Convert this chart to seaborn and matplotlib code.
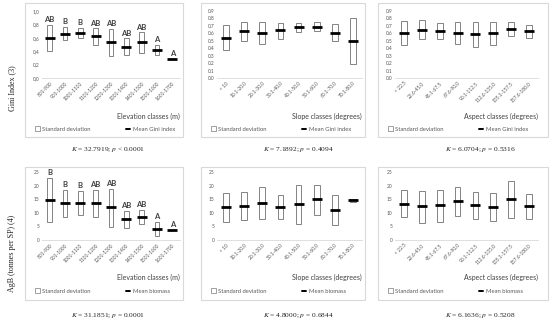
import numpy as np
import pandas as pd
import seaborn as sns
import matplotlib.pyplot as plt
from matplotlib.patches import Rectangle, Patch
from matplotlib.lines import Line2D

# Classes
elev_classes = ['801-900', '901-1000', '1001-1100', '1101-1200', '1201-1300',
                '1301-1400', '1401-1500', '1501-1600', '1601-1700']
slope_classes = ['< 10', '10.1-20.0', '20.1-30.0', '30.1-40.0', '40.1-50.0',
                 '50.1-60.0', '60.1-70.0', '70.1-80.0']
aspect_classes = ['< 22.5', '22.6-45.0', '45.1-67.5', '67.6-90.0', '90.1-112.5',
                  '112.6-135.0', '135.1-157.5', '157.6-180.0']

# Gini index
gini_elev_mean = [0.60, 0.66, 0.67, 0.62, 0.53, 0.46, 0.53, 0.42, 0.29]
gini_elev_low = [0.40, 0.56, 0.60, 0.50, 0.33, 0.34, 0.38, 0.34, 0.29]
gini_elev_high = [0.79, 0.76, 0.75, 0.74, 0.73, 0.59, 0.68, 0.50, 0.29]
gini_elev_letters = ['AB', 'B', 'B', 'AB', 'AB', 'AB', 'AB', 'A', 'A']

gini_slope_mean = [0.54, 0.63, 0.61, 0.64, 0.68, 0.69, 0.61, 0.50]
gini_slope_low = [0.37, 0.50, 0.46, 0.53, 0.62, 0.63, 0.50, 0.19]
gini_slope_high = [0.71, 0.75, 0.75, 0.74, 0.74, 0.75, 0.72, 0.80]

gini_aspect_mean = [0.60, 0.65, 0.63, 0.61, 0.59, 0.60, 0.66, 0.63]
gini_aspect_low = [0.44, 0.52, 0.52, 0.46, 0.42, 0.44, 0.56, 0.54]
gini_aspect_high = [0.76, 0.78, 0.74, 0.75, 0.75, 0.75, 0.75, 0.71]

# Above ground biomass
agb_elev_mean = [14.7, 13.6, 13.7, 13.6, 12.0, 7.6, 8.4, 4.0, 3.8]
agb_elev_low = [6.5, 8.5, 9.3, 8.5, 4.8, 4.3, 5.7, 1.3, 3.8]
agb_elev_high = [22.8, 18.5, 18.0, 18.5, 18.8, 10.8, 11.2, 6.6, 3.8]
agb_elev_letters = ['B', 'B', 'B', 'AB', 'AB', 'AB', 'AB', 'A', 'A']

agb_slope_mean = [12.0, 12.5, 13.7, 12.2, 13.3, 15.0, 11.0, 14.6]
agb_slope_low = [6.6, 7.2, 7.7, 7.7, 6.0, 9.2, 5.4, 14.1]
agb_slope_high = [17.4, 17.7, 19.6, 16.6, 20.1, 20.3, 16.4, 15.1]

agb_aspect_mean = [13.4, 12.4, 12.9, 14.3, 12.9, 12.2, 15.0, 12.4]
agb_aspect_low = [8.4, 6.3, 6.8, 8.8, 7.6, 7.0, 8.1, 7.6]
agb_aspect_high = [18.3, 18.0, 18.4, 19.5, 17.8, 17.2, 21.7, 16.9]

captions = ['$K$ = 32.7919; $p$ < 0.0001', '$K$ = 7.1892; $p$ = 0.4094', '$K$ = 6.0704; $p$ = 0.5316',
            '$K$ = 31.1851; $p$ = 0.0001', '$K$ = 4.8000; $p$ = 0.6844', '$K$ = 6.1636; $p$ = 0.5208']
xlabels = ['Elevation classes (m)', 'Slope classes (degrees)', 'Aspect classes (degrees)']

sns.set_style('white')
plt.rcParams['font.family'] = ['Lato', 'DejaVu Sans']
plt.rcParams['mathtext.fontset'] = 'stix'

W, H = 550, 327
fig = plt.figure(figsize=(W / 100, H / 100), dpi=100)


def fx(x):
    return x / W


def fy(y):
    return 1 - y / H


paneles = [
    (elev_classes, gini_elev_mean, gini_elev_low, gini_elev_high, gini_elev_letters, 1.0, 0.2, 'Mean Gini index'),
    (slope_classes, gini_slope_mean, gini_slope_low, gini_slope_high, None, 0.9, 0.1, 'Mean Gini index'),
    (aspect_classes, gini_aspect_mean, gini_aspect_low, gini_aspect_high, None, 0.9, 0.1, 'Mean Gini index'),
    (elev_classes, agb_elev_mean, agb_elev_low, agb_elev_high, agb_elev_letters, 25, 5, 'Mean biomass'),
    (slope_classes, agb_slope_mean, agb_slope_low, agb_slope_high, None, 25, 5, 'Mean biomass'),
    (aspect_classes, agb_aspect_mean, agb_aspect_low, agb_aspect_high, None, 25, 5, 'Mean biomass'),
]

# geometria em pixels
frame_x = [(25, 183), (201, 365), (378, 548)]
frame_y = [(3, 137), (167, 300)]
axes_x = [(42, 180), (217, 362), (395, 538)]
axes_y = [(11, 78), (172, 240)]
xlabel_y = [116, 277]
legend_y = [129, 291]
caption_y = [150, 315]
caption_x = [108, 298, 480]

cinza = '#7a7a7a'
for i, (classes, media, baixo, alto, letras, ymax, passo, nome_media) in enumerate(paneles):
    lin, col = divmod(i, 3)
    x0, x1 = frame_x[col]
    y0, y1 = frame_y[lin]
    fig.add_artist(Rectangle((fx(x0), fy(y1)), (x1 - x0) / W, (y1 - y0) / H, transform=fig.transFigure,
                             fill=False, edgecolor='#d9d9d9', lw=0.8))

    ax0, ax1 = axes_x[col]
    ay0, ay1 = axes_y[lin]
    ax = fig.add_axes([fx(ax0), fy(ay1), (ax1 - ax0) / W, (ay1 - ay0) / H])
    ax.patch.set_alpha(0)

    df = pd.DataFrame({'pos': np.arange(len(classes)), 'media': media,
                       'baixo': baixo, 'alto': alto})
    ax.bar(df['pos'], df['alto'] - df['baixo'], bottom=df['baixo'], width=0.32,
           facecolor='white', edgecolor=cinza, lw=0.65, zorder=2)
    sns.scatterplot(data=df, x='pos', y='media', marker='_', s=50, linewidth=2.0,
                    color='black', ax=ax, legend=False, zorder=3)

    if letras is not None:
        for p, l, a, m in zip(df['pos'], letras, df['alto'], df['media']):
            ax.text(p, max(a, m) + ymax * 0.025, l, ha='center', va='bottom',
                    fontsize=5.5, fontweight='bold', color='#404040')

    ax.set_xlim(-0.5, len(classes) - 0.5)
    ax.set_ylim(0, ymax)
    ticks = np.arange(0, ymax + passo / 2, passo)
    ax.set_yticks(ticks)
    if i == 0:
        ax.set_yticklabels([f'{t:.1f}'.replace('.', ',') for t in ticks])
    elif ymax < 5:
        ax.set_yticklabels([f'{t:.1f}' for t in ticks])
    else:
        ax.set_yticklabels([f'{t:.0f}' for t in ticks])
    ax.set_xticks(df['pos'])
    ax.set_xticklabels(classes, rotation=45, ha='right', rotation_mode='anchor')
    ax.tick_params(axis='both', length=0, labelsize=3.5, labelcolor='#595959', pad=2)
    ax.set_xlabel('')
    ax.set_ylabel('')
    for s in ['left', 'top', 'right']:
        ax.spines[s].set_visible(False)
    ax.spines['bottom'].set_color('#d9d9d9')
    ax.spines['bottom'].set_linewidth(0.6)

    fig.text(fx(ax1), fy(xlabel_y[lin]), xlabels[col], ha='right', va='center',
             fontsize=5, color='#404040')

    handles = [Patch(facecolor='white', edgecolor=cinza, lw=0.5),
               Line2D([0], [0], color='black', lw=1.4)]
    ax.legend(handles, ['Standard deviation', nome_media], loc='center left',
              bbox_to_anchor=(fx(x0 + 5), fy(legend_y[lin])), bbox_transform=fig.transFigure,
              ncol=2, frameon=False, fontsize=4.2, labelcolor='#595959',
              handlelength=0.8, handleheight=0.8, handletextpad=0.4, columnspacing=6.0)

    fig.text(fx(caption_x[col]), fy(caption_y[lin]), captions[i], ha='center', va='center',
             fontsize=5.3, family='Liberation Serif', color='#222222')

fig.text(fx(12), fy(88), 'Gini Index (3)', rotation=90, ha='center', va='center',
         fontsize=5.8, family='Liberation Serif', color='#222222')
fig.text(fx(12), fy(253), 'AgB (tonnes per SP) (4)', rotation=90, ha='center', va='center',
         fontsize=5.8, family='Liberation Serif', color='#222222')

fig.savefig('out.png', dpi=100, facecolor='white')
